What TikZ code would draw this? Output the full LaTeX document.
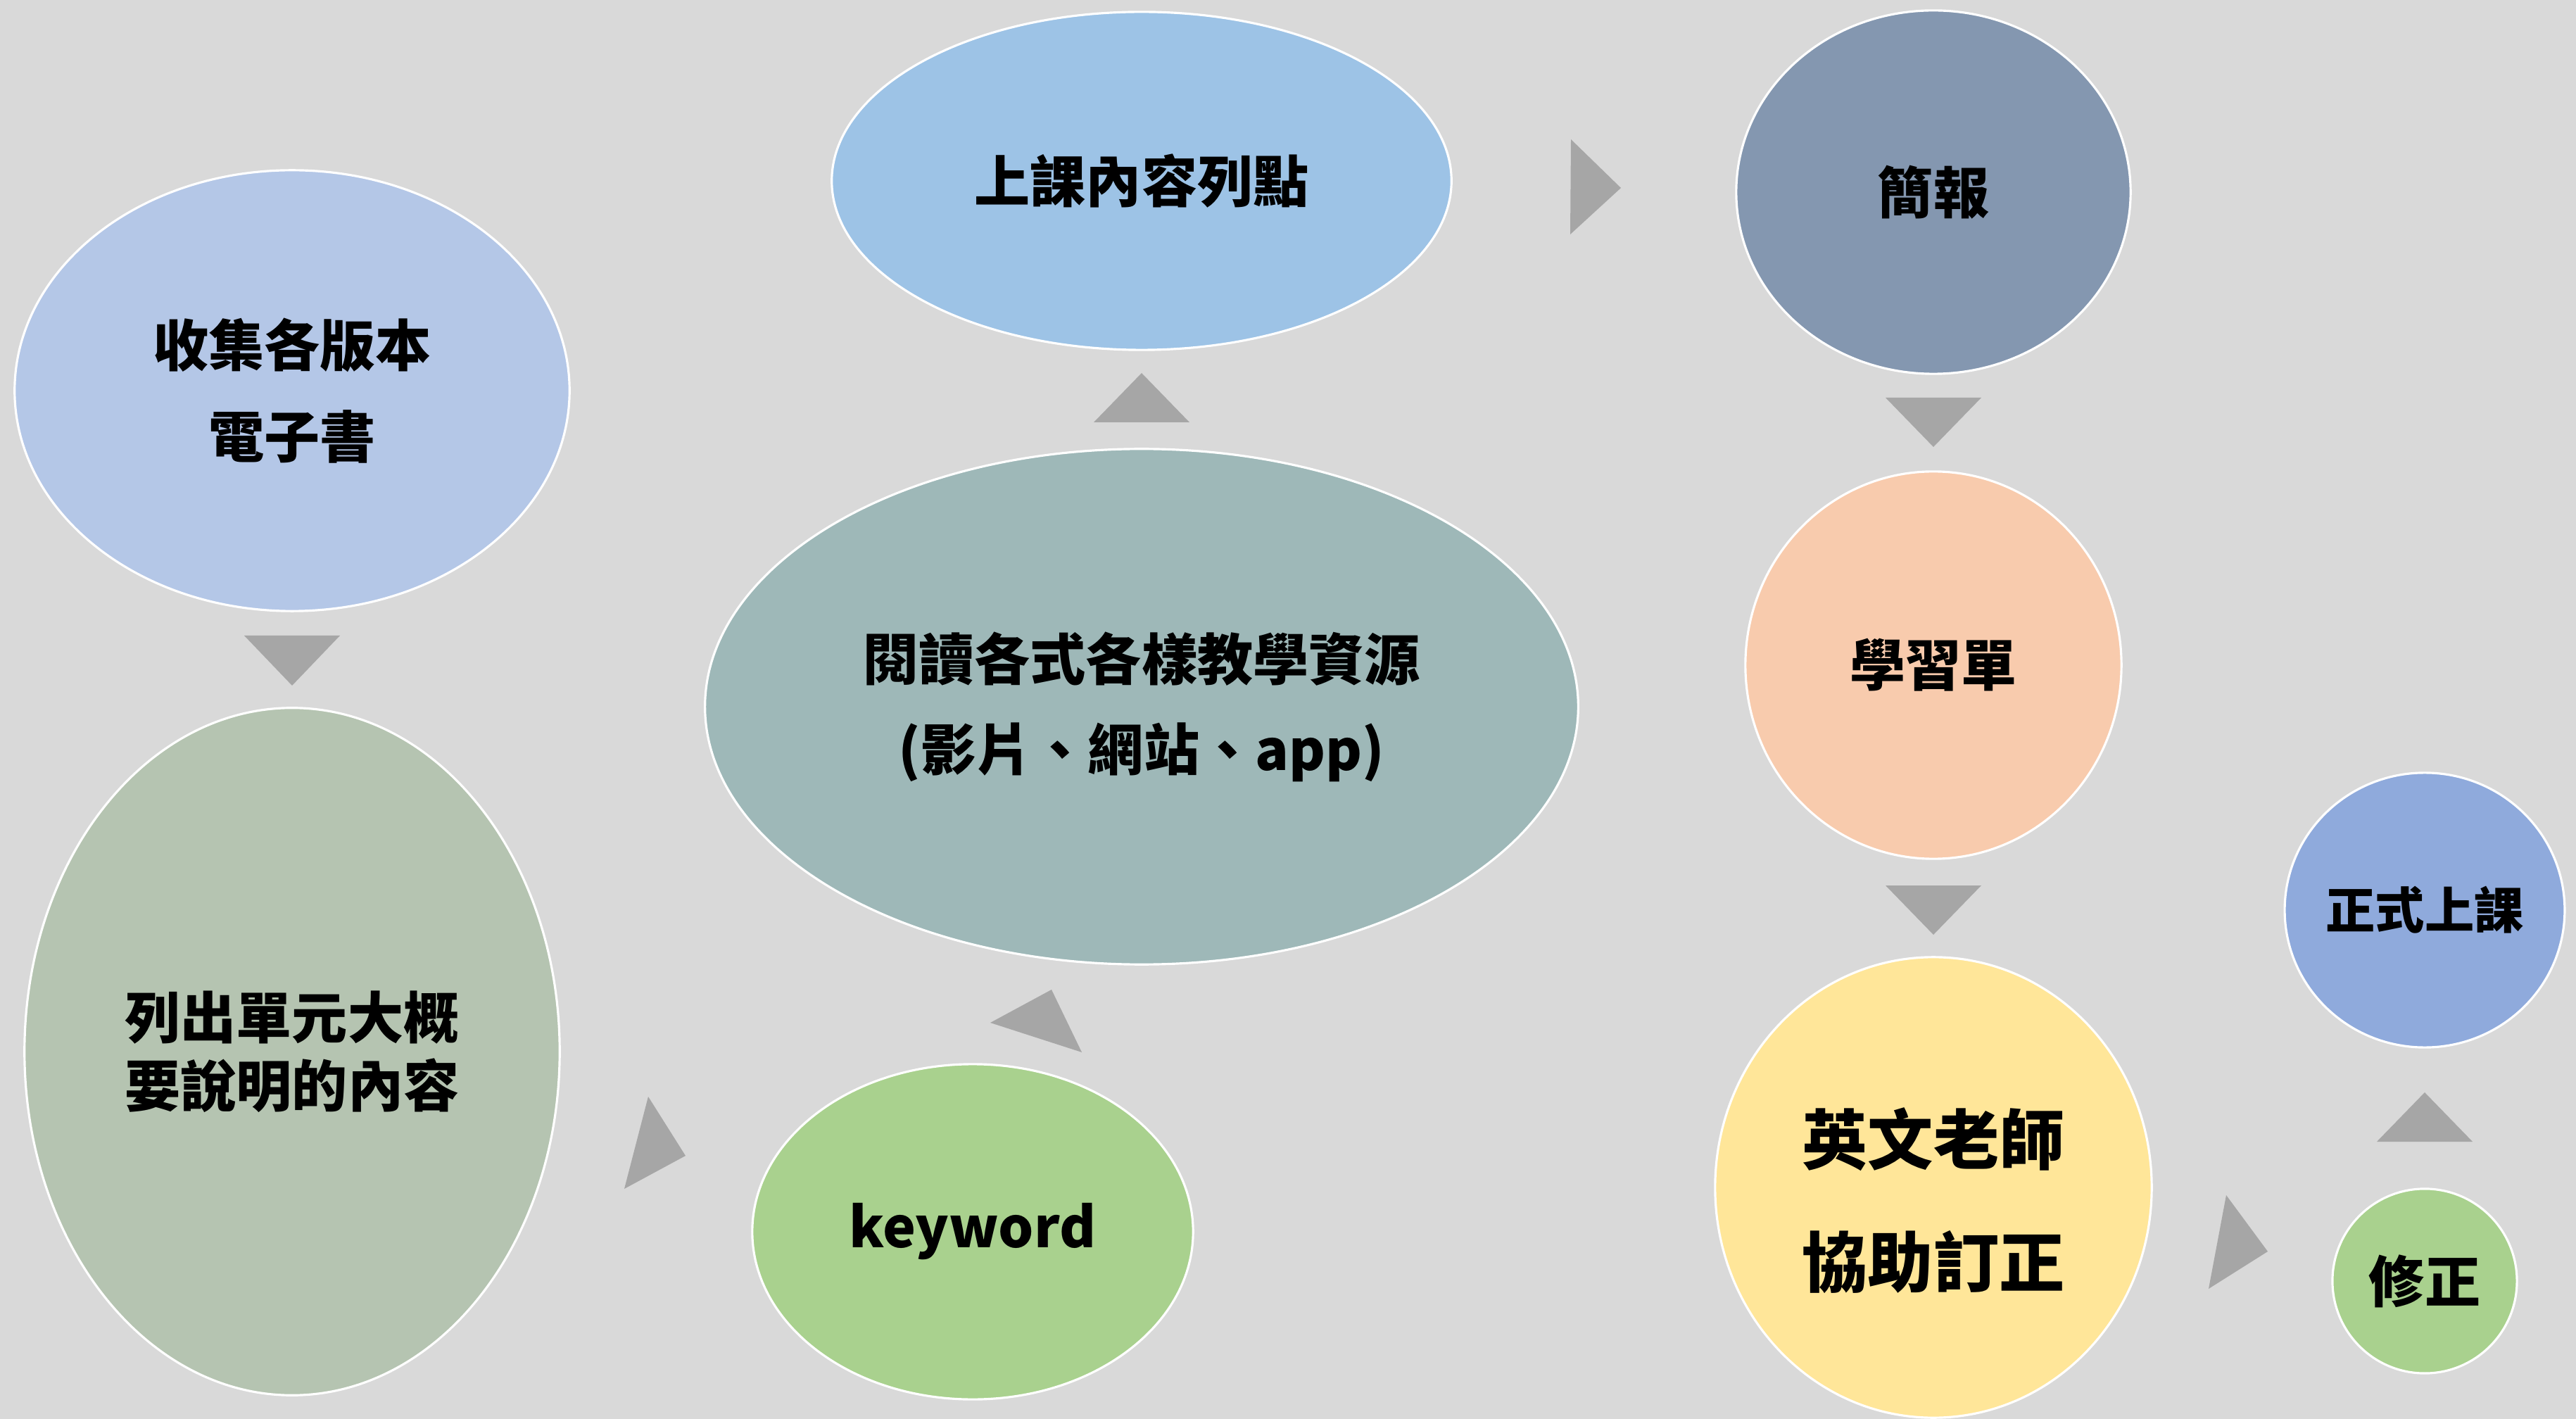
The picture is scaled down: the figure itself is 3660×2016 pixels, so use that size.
\documentclass[tikz,border=0pt]{standalone}
\usepackage{fontspec}
\setmainfont{Noto Sans CJK TC Black}
\usetikzlibrary{shapes.geometric}
\definecolor{bggray}{HTML}{D9D9D9}
\definecolor{trigray}{HTML}{A6A6A6}
\definecolor{cShou}{HTML}{B4C7E7}
\definecolor{cLie}{HTML}{B5C4B1}
\definecolor{cKey}{HTML}{A9D18E}
\definecolor{cRead}{HTML}{9EB8B8}
\definecolor{cClass}{HTML}{9DC3E6}
\definecolor{cSlide}{HTML}{8497B0}
\definecolor{cSheet}{HTML}{F8CBAD}
\definecolor{cTeach}{HTML}{FFE699}
\definecolor{cFormal}{HTML}{8FAADC}
\tikzset{
  bubble/.style={ellipse,draw=white,line width=0.9pt,inner sep=0pt,align=center,text=black},
  arrowtri/.style={fill=trigray},
}
\begin{document}
\begin{tikzpicture}[x=0.01cm,y=-0.01cm]
    \fill[bggray] (0,0) rectangle (3660,2016);
    % bubbles
    \node[bubble,fill=cShou,minimum width=7.88cm,minimum height=6.26cm,font=\fontsize{22.5}{37}\selectfont] (shou) at (415,555) {收集各版本\\電子書};
    \node[bubble,fill=cLie,minimum width=7.60cm,minimum height=9.76cm,font=\fontsize{22.5}{27.6}\selectfont] (lie) at (415,1494) {列出單元大概\\要說明的內容};
    \node[bubble,fill=cKey,minimum width=6.26cm,minimum height=4.76cm,font=\fontsize{22.5}{27}\selectfont] (key) at (1382,1750) {keyword};
    \node[bubble,fill=cRead,minimum width=12.40cm,minimum height=7.32cm,font=\fontsize{22.5}{36.4}\selectfont] (read) at (1622,1004) {閱讀各式各樣教學資源\\(影片、網站、app)};
    \node[bubble,fill=cClass,minimum width=8.80cm,minimum height=4.80cm,font=\fontsize{22.5}{27}\selectfont] (class) at (1622,257) {上課內容列點};
    \node[bubble,fill=cSlide,minimum width=5.60cm,minimum height=5.16cm,font=\fontsize{22.5}{27}\selectfont] (slide) at (2747,273) {簡報};
    \node[bubble,fill=cSheet,minimum width=5.34cm,minimum height=5.50cm,font=\fontsize{22.5}{27}\selectfont] (sheet) at (2747,945) {學習單};
    \node[bubble,fill=cTeach,minimum width=6.20cm,minimum height=6.54cm] (teach) at (2747,1687) {};
    \node[align=center,inner sep=0pt,font=\fontsize{26.5}{49.5}\selectfont] (teachtext) at (2747,1706) {英文老師\\協助訂正};
    \node[bubble,fill=cFormal,minimum width=3.90cm,minimum height=3.90cm,font=\fontsize{20}{24}\selectfont] (formal) at (3445,1293) {正式上課};
    \node[bubble,fill=cKey,minimum width=2.62cm,minimum height=2.62cm,font=\fontsize{22.5}{27}\selectfont] (fix) at (3445,1820) {修正};
    % arrow triangles
    \foreach \ax/\ay/\bx/\by/\cx/\cy in {347/903/483/903/415/974,921/1558/974/1642/887/1689,
        1494/1406/1407/1453/1537/1495,1554/600/1690/600/1622/530,2232/198/2303/267/2231/333,
        2679/565/2815/565/2747/635,2679/1258/2815/1258/2747/1328,3163/1698/3222/1778/3138/1831,
        3377/1622/3513/1622/3445/1552}
        \fill[arrowtri] (\ax,\ay)--(\bx,\by)--(\cx,\cy)--cycle;
\end{tikzpicture}
\end{document}
